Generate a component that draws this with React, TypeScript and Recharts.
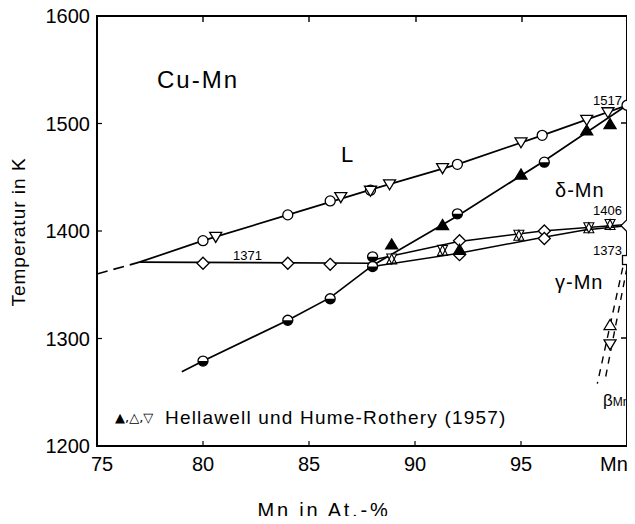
import React from 'react';
import { ComposedChart, Line, Scatter, XAxis, YAxis, Customized } from 'recharts';

const FONT = '"Liberation Sans", Arial, sans-serif';

const xTicks = [75, 80, 85, 90, 95, 100];
const yTicks = [1200, 1300, 1400, 1500, 1600];

// Linien (Liquidus, δ-Mn, γ-Mn, β-Mn)
const liquidusDashed = [{ x: 75, t: 1360 }, { x: 77, t: 1371 }];
const liquidus = [
  { x: 77, t: 1371 }, { x: 80, t: 1391 }, { x: 84, t: 1415 }, { x: 88, t: 1439 },
  { x: 92, t: 1462 }, { x: 96, t: 1489 }, { x: 100, t: 1517 }
];
const deltaLine = [
  { x: 79, t: 1269 }, { x: 80, t: 1279 }, { x: 84, t: 1317 }, { x: 86, t: 1338 },
  { x: 88, t: 1368 }, { x: 92, t: 1414 }, { x: 96, t: 1464 }, { x: 100, t: 1517 }
];
const gammaFlat = [{ x: 77, t: 1371 }, { x: 88, t: 1370 }];
const gammaUpper = [{ x: 88, t: 1373 }, { x: 92, t: 1390 }, { x: 96, t: 1400 }, { x: 100, t: 1406 }];
const gammaLower = [{ x: 88, t: 1367 }, { x: 92, t: 1379 }, { x: 96, t: 1394 }, { x: 98, t: 1401 }, { x: 100, t: 1405 }];
const betaLeft = [{ x: 99.8, t: 1366 }, { x: 98.6, t: 1258 }];
const betaRight = [{ x: 100, t: 1366 }, { x: 98.95, t: 1260 }];

// Messpunkte
const openCircles = [
  { x: 80, t: 1391 }, { x: 84, t: 1415 }, { x: 86, t: 1428 }, { x: 87.9, t: 1438 },
  { x: 92, t: 1462 }, { x: 96, t: 1489 }, { x: 100, t: 1517 }
];
const openDown = [
  { x: 80.6, t: 1394 }, { x: 86.5, t: 1431 }, { x: 87.9, t: 1437 }, { x: 88.8, t: 1443 },
  { x: 91.3, t: 1458 }, { x: 95, t: 1482 }, { x: 98.1, t: 1503 }, { x: 99.1, t: 1510 },
  { x: 99.2, t: 1294 }
];
const openUp = [{ x: 99.2, t: 1313 }];
const halfCircles = [
  { x: 80, t: 1279 }, { x: 84, t: 1317 }, { x: 86, t: 1337 }, { x: 88, t: 1376 },
  { x: 88, t: 1367 }, { x: 92, t: 1416 }, { x: 96.1, t: 1464 }
];
const filledTri = [
  { x: 88.9, t: 1388 }, { x: 91.3, t: 1406 }, { x: 92.1, t: 1383 }, { x: 95, t: 1453 },
  { x: 98.1, t: 1494 }, { x: 99.2, t: 1500 }
];
const diamonds = [
  { x: 80, t: 1370 }, { x: 84, t: 1370 }, { x: 86, t: 1369 }, { x: 92.1, t: 1391 },
  { x: 92.1, t: 1378 }, { x: 96.1, t: 1400 }, { x: 96.1, t: 1393 }, { x: 100, t: 1405 }
];
const hourglass = [
  { x: 88.9, t: 1374 }, { x: 91.3, t: 1382 }, { x: 94.9, t: 1396 }, { x: 98.2, t: 1403 }, { x: 99.2, t: 1406 }
];
const squares = [{ x: 100, t: 1373 }];

const SW = 1.3;

const OpenCircle = ({ cx, cy }: any) => <circle cx={cx} cy={cy} r={5} fill="#fff" stroke="#000" strokeWidth={SW} />;
const OpenDown = ({ cx, cy }: any) => (
  <polygon points={`${cx - 6},${cy - 5} ${cx + 6},${cy - 5} ${cx},${cy + 5}`} fill="#fff" stroke="#000" strokeWidth={SW} />
);
const OpenUp = ({ cx, cy }: any) => (
  <polygon points={`${cx - 6},${cy + 5} ${cx + 6},${cy + 5} ${cx},${cy - 5}`} fill="#fff" stroke="#000" strokeWidth={SW} />
);
const FilledTri = ({ cx, cy }: any) => (
  <polygon points={`${cx - 6},${cy + 5} ${cx + 6},${cy + 5} ${cx},${cy - 5}`} fill="#000" stroke="#000" strokeWidth={SW} />
);
const HalfCircle = ({ cx, cy }: any) => (
  <g>
    <circle cx={cx} cy={cy} r={5} fill="#fff" stroke="#000" strokeWidth={SW} />
    <path d={`M${cx - 5},${cy} A5,5 0 0 0 ${cx + 5},${cy} Z`} fill="#000" />
  </g>
);
const Diamond = ({ cx, cy }: any) => (
  <polygon points={`${cx},${cy - 6} ${cx + 6},${cy} ${cx},${cy + 6} ${cx - 6},${cy}`} fill="#fff" stroke="#000" strokeWidth={SW} />
);
const Hourglass = ({ cx, cy }: any) => (
  <g fill="#fff" stroke="#000" strokeWidth={1.1}>
    <polygon points={`${cx - 5},${cy - 5} ${cx + 5},${cy - 5} ${cx},${cy + 5}`} />
    <polygon points={`${cx - 5},${cy + 5} ${cx + 5},${cy + 5} ${cx},${cy - 5}`} fill="none" />
  </g>
);
const Square = ({ cx, cy }: any) => (
  <rect x={cx - 4.5} y={cy - 4.5} width={9} height={9} fill="#fff" stroke="#000" strokeWidth={SW} />
);

const XTick = ({ x, y, payload }: any) => {
  const v = payload.value;
  const dx = v === 75 ? 5 : v === 100 ? -8 : 0;
  return (
    <text x={x + dx} y={y + 25} textAnchor="middle" fontSize={20} fontFamily={FONT} fill="#000">
      {v === 100 ? 'Mn' : v}
    </text>
  );
};

const YTick = ({ x, y, payload }: any) => (
  <text x={x} y={y} dy="0.36em" textAnchor="end" fontSize={20} fontFamily={FONT} fill="#000">
    {payload.value}
  </text>
);

const Annotations = () => (
  <g fontFamily={FONT} fill="#000">
    <text x={198} y={88} fontSize={24} textAnchor="middle" letterSpacing={2}>Cu-Mn</text>
    <text x={347} y={162} fontSize={22} textAnchor="middle">L</text>
    <text x={555} y={197} fontSize={20} letterSpacing={1}>δ-Mn</text>
    <text x={555} y={289} fontSize={20} letterSpacing={1}>γ-Mn</text>
    <text x={622} y={105} fontSize={13} textAnchor="end">1517</text>
    <text x={622} y={215} fontSize={13} textAnchor="end">1406</text>
    <text x={622} y={255} fontSize={13} textAnchor="end">1373</text>
    <text x={233} y={260} fontSize={13}>1371</text>
    <text x={603} y={406}>
      <tspan fontSize={17}>β</tspan>
      <tspan fontSize={12}>Mn</tspan>
    </text>
    <text x={115} y={422} fontSize={13} fontFamily='"DejaVu Sans", sans-serif'>▲,△,▽</text>
    <text x={165} y={424} fontSize={19} letterSpacing={1.2}>Hellawell und Hume-Rothery (1957)</text>
    <text transform="translate(25, 232) rotate(-90)" fontSize={19} textAnchor="middle" letterSpacing={1}>
      Temperatur in K
    </text>
    <text x={324} y={517} fontSize={20} textAnchor="middle" letterSpacing={2.8}>Mn in At.-%</text>
    {/* Rahmen mit Innenstrichen oben und rechts */}
    <g stroke="#000" fill="none">
      <rect x={97} y={16} width={530} height={430} strokeWidth={2} />
      <path d="M203,16 v6 M309,16 v6 M416,16 v6 M522,16 v6 M627,338 h-6 M627,123 h-6" strokeWidth={1.4} />
    </g>
  </g>
);

const lineProps = {
  type: 'linear' as const,
  dataKey: 't',
  stroke: '#000',
  strokeWidth: 1.7,
  dot: false,
  activeDot: false,
  isAnimationActive: false,
  legendType: 'none' as const
};

const axisLine = { stroke: '#000', strokeWidth: 1.5 };
const tickLine = { stroke: '#000', strokeWidth: 1.2 };

const App = () => (
  <div style={{ margin: '-8px', width: 635, height: 524, overflow: 'hidden', background: '#fff' }}>
    <ComposedChart width={634} height={524} margin={{ top: 16, right: 7, bottom: 0, left: 0 }}>
      <XAxis
        dataKey="x"
        type="number"
        domain={[75, 100]}
        ticks={xTicks}
        height={78}
        tickSize={-5}
        tickMargin={5}
        tick={<XTick />}
        axisLine={axisLine}
        tickLine={tickLine}
      />
      <YAxis
        dataKey="t"
        type="number"
        domain={[1200, 1600]}
        ticks={yTicks}
        width={97}
        tickSize={-5}
        tickMargin={12}
        tick={<YTick />}
        axisLine={axisLine}
        tickLine={tickLine}
      />

      <Line {...lineProps} data={liquidusDashed} strokeDasharray="11 6" />
      <Line {...lineProps} data={liquidus} />
      <Line {...lineProps} data={deltaLine} />
      <Line {...lineProps} data={gammaFlat} />
      <Line {...lineProps} data={gammaUpper} strokeWidth={1.5} />
      <Line {...lineProps} data={gammaLower} strokeWidth={1.5} />
      <Line {...lineProps} data={betaLeft} strokeWidth={1.4} strokeDasharray="7 6" />
      <Line {...lineProps} data={betaRight} strokeWidth={1.4} strokeDasharray="7 6" />

      <Scatter data={diamonds} dataKey="t" shape={<Diamond />} isAnimationActive={false} />
      <Scatter data={hourglass} dataKey="t" shape={<Hourglass />} isAnimationActive={false} />
      <Scatter data={openCircles} dataKey="t" shape={<OpenCircle />} isAnimationActive={false} />
      <Scatter data={openDown} dataKey="t" shape={<OpenDown />} isAnimationActive={false} />
      <Scatter data={openUp} dataKey="t" shape={<OpenUp />} isAnimationActive={false} />
      <Scatter data={halfCircles} dataKey="t" shape={<HalfCircle />} isAnimationActive={false} />
      <Scatter data={filledTri} dataKey="t" shape={<FilledTri />} isAnimationActive={false} />
      <Scatter data={squares} dataKey="t" shape={<Square />} isAnimationActive={false} />

      <Customized component={<Annotations />} />
    </ComposedChart>
  </div>
);

export default App;
